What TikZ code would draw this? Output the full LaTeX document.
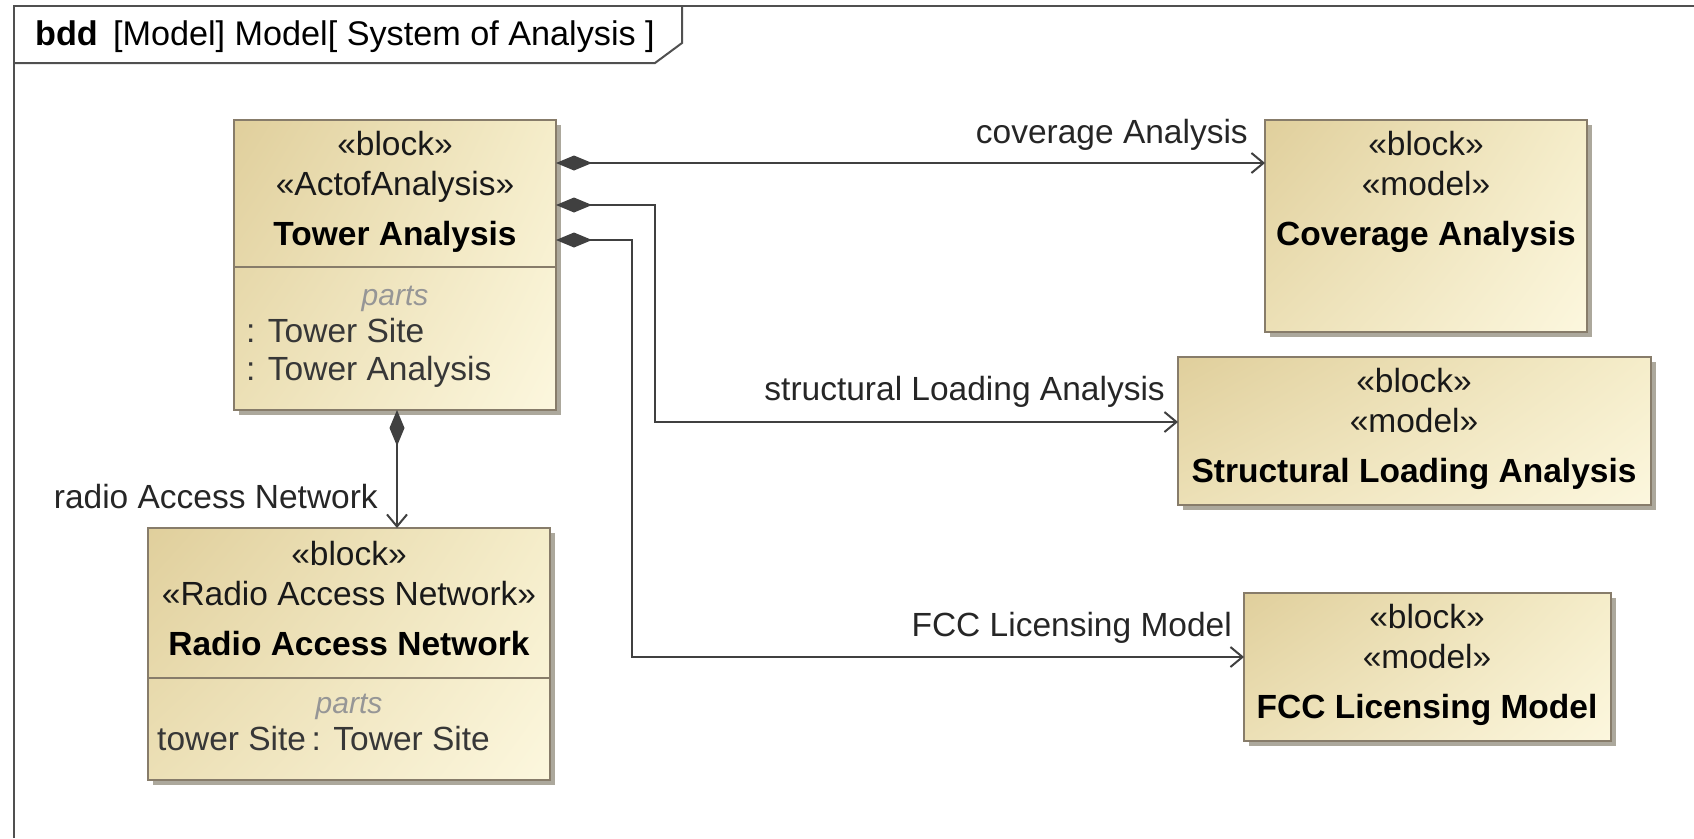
\documentclass[tikz,border=0pt]{standalone}
\usepackage{fontspec}
\setmainfont{Liberation Sans}
\usetikzlibrary{arrows.meta,shadows,shadings}

\definecolor{framegray}{RGB}{80,80,80}
\definecolor{blockborder}{RGB}{135,124,106}
\definecolor{shadowgray}{RGB}{172,168,156}
\definecolor{fillUL}{RGB}{224,207,156}
\definecolor{fillUR}{RGB}{245,237,202}
\definecolor{fillLL}{RGB}{236,224,182}
\definecolor{fillLR}{RGB}{252,247,222}
\definecolor{linegray}{RGB}{64,64,64}
\definecolor{partsgray}{RGB}{150,150,150}
\definecolor{parttext}{RGB}{55,55,55}
\definecolor{stereo}{RGB}{25,25,25}

\tikzset{
  blockbox/.style={draw=blockborder, line width=2.5pt, inner sep=0pt, outer sep=0pt,
    anchor=north west, shade,
    upper left=fillUL, upper right=fillUR, lower left=fillLL, lower right=fillLR,
    general shadow={fill=shadowgray, shadow xshift=5pt, shadow yshift=-5pt}},
  compline/.style={draw=blockborder, line width=2.5pt},
  txt/.style={font=\fontsize{33.5}{40}\selectfont, text=stereo, inner sep=0pt, anchor=base},
  bname/.style={txt, font=\fontsize{33.5}{40}\selectfont\bfseries, text=black},
  partshead/.style={txt, font=\fontsize{30}{36}\selectfont\itshape, text=partsgray},
  partitem/.style={txt, text=parttext, anchor=base west},
  rolelabel/.style={txt, text=black!85, anchor=base east},
  conn/.style={draw=linegray, line width=2pt,
    {Diamond[length=36pt,width=15pt]}-{Straight Barb[length=12pt,width=20pt]}},
  framebox/.style={draw=framegray, line width=2.5pt}
}

\begin{document}
\begin{tikzpicture}[x=1pt,y=-1pt]
\useasboundingbox (0,0) rectangle (1694,838);

% diagram frame with its name tab
\draw[framebox] (14,838) -- (14,6) -- (1694,6);
\draw[framebox, line width=2pt] (14,63) -- (655,63) -- (682,43) -- (682,6);
\node[txt, anchor=base west, text=black, font=\fontsize{34.2}{40}\selectfont] (title) at (35,45)
  {\textbf{bdd}\, [Model] Model[ System of Analysis ]};

% blocks
\node[blockbox, minimum width=322pt, minimum height=290pt] (tower) at (234,120) {};
\node[blockbox, minimum width=322pt, minimum height=212pt] (cov) at (1265,120) {};
\node[blockbox, minimum width=473pt, minimum height=148pt] (slm) at (1178,357) {};
\node[blockbox, minimum width=367pt, minimum height=148pt] (fcc) at (1244,593) {};
\node[blockbox, minimum width=402pt, minimum height=252pt] (ran) at (148,528) {};

% compartment separators
\draw[compline] ([yshift=-147pt]tower.north west) -- ([yshift=-147pt]tower.north east);
\draw[compline] ([yshift=-150pt]ran.north west) -- ([yshift=-150pt]ran.north east);

% Tower Analysis
\node[txt] (towerS1) at (395,155) {«block»};
\node[txt] (towerS2) at (395,195) {«ActofAnalysis»};
\node[bname] (towerN) at (395,245) {Tower Analysis};
\node[partshead] (towerP) at (395,305) {parts};
\node[partitem] (towerP1) at (246,342) {: Tower Site};
\node[partitem] (towerP2) at (246,380) {: Tower Analysis};

% Coverage Analysis
\node[txt] (covS1) at (1426,155) {«block»};
\node[txt] (covS2) at (1426,195) {«model»};
\node[bname] (covN) at (1426,245) {Coverage Analysis};

% Structural Loading Analysis
\node[txt] (slmS1) at (1414,392) {«block»};
\node[txt] (slmS2) at (1414,432) {«model»};
\node[bname] (slmN) at (1414,482) {Structural Loading Analysis};

% FCC Licensing Model
\node[txt] (fccS1) at (1427,628) {«block»};
\node[txt] (fccS2) at (1427,668) {«model»};
\node[bname] (fccN) at (1427,718) {FCC Licensing Model};

% Radio Access Network
\node[txt] (ranS1) at (349,565) {«block»};
\node[txt] (ranS2) at (349,605) {«Radio Access Network»};
\node[bname] (ranN) at (349,655) {Radio Access Network};
\node[partshead] (ranP) at (349,713) {parts};
\node[partitem] (ranP1) at (157,750) {tower Site\,: Tower Site};

% composition associations
\draw[conn] ([yshift=-43pt]tower.north east) -- ([yshift=-43pt]cov.north west);
\draw[conn] ([yshift=-85pt]tower.north east) -- ++(99,0) |- ([yshift=-65pt]slm.north west);
\draw[conn] ([yshift=-120pt]tower.north east) -- ++(76,0) |- ([yshift=-64pt]fcc.north west);
\draw[conn] ([xshift=2pt]tower.south) -- ([xshift=2pt]tower.south |- ran.north);

% role names
\node[rolelabel] (lcov) at (1248,143) {coverage Analysis};
\node[rolelabel] (lslm) at (1165,400) {structural Loading Analysis};
\node[rolelabel] (lfcc) at (1232,636) {FCC Licensing Model};
\node[rolelabel] (lran) at (378,508) {radio Access Network};
\end{tikzpicture}
\end{document}
